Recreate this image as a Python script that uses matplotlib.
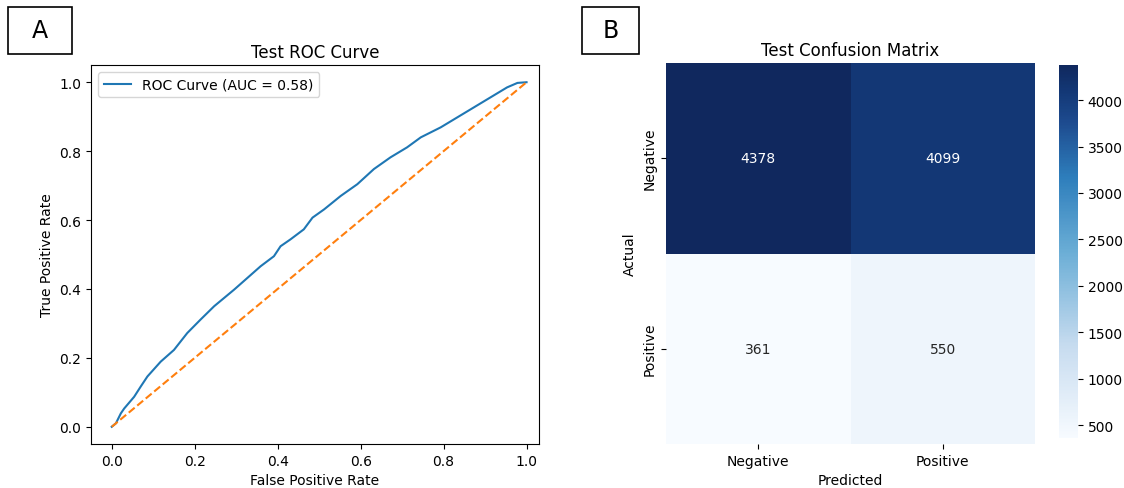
import matplotlib
matplotlib.use("Agg")
import matplotlib.pyplot as plt
from matplotlib.colors import LinearSegmentedColormap
from matplotlib.patches import Rectangle
import numpy as np
import seaborn as sns

W, H = 1124, 489

# ROC curve
fpr = [0.0, 0.01, 0.022, 0.03, 0.054, 0.07, 0.086, 0.118, 0.15, 0.182, 0.214,
       0.247, 0.295, 0.327, 0.359, 0.391, 0.407, 0.431, 0.463, 0.484, 0.512,
       0.552, 0.592, 0.632, 0.672, 0.712, 0.745, 0.793, 0.833, 0.873, 0.913,
       0.953, 0.978, 1.0]
tpr = [0.0, 0.01, 0.039, 0.053, 0.087, 0.117, 0.146, 0.189, 0.223, 0.272, 0.311,
       0.35, 0.398, 0.432, 0.466, 0.495, 0.524, 0.544, 0.573, 0.607, 0.631,
       0.67, 0.704, 0.748, 0.782, 0.811, 0.84, 0.869, 0.898, 0.927, 0.956,
       0.985, 0.998, 1.0]
auc = 0.58

class_labels = ["Negative", "Positive"]
cm = [[4378, 4099],
      [361, 550]]

# Blues as it looks in the screenshot (top end is more navy)
blues = plt.get_cmap("Blues")
cmap = LinearSegmentedColormap.from_list(
    "blues_shot",
    [(0.0, blues(0.0)), (0.25, blues(0.25)), (0.5, blues(0.5)), (0.7, blues(0.7)),
     (0.85, "#1d4a8e"), (0.93, "#133876"), (1.0, "#10285e")],
)


def px_axes(fig, left, top, right, bottom):
    return fig.add_axes([left / W, 1 - bottom / H, (right - left) / W, (bottom - top) / H])


def panel_label(fig, text, left, top, right, bottom):
    fig.add_artist(Rectangle((left / W, 1 - bottom / H), (right - left) / W,
                             (bottom - top) / H, transform=fig.transFigure,
                             fill=False, edgecolor="black", linewidth=1.2))
    fig.text((left + right) / 2 / W, 1 - (top + bottom) / 2 / H, text,
             ha="center", va="center", fontsize=17)


fig = plt.figure(figsize=(W / 100, H / 100), dpi=100)

# A: ROC
ax = px_axes(fig, 91, 66, 539, 445)
ax.plot(fpr, tpr, color="tab:blue", label="ROC Curve (AUC = {:.2f})".format(auc))
ax.plot([0, 1], [0, 1], color="tab:orange", linestyle="--")
ax.set_xlim(-0.05, 1.03)
ax.set_ylim(-0.05, 1.05)
ax.set_xticks(np.arange(0, 1.01, 0.2))
ax.set_yticks(np.arange(0, 1.01, 0.2))
ax.set_xlabel("False Positive Rate")
ax.set_ylabel("True Positive Rate")
ax.set_title("Test ROC Curve")
ax.legend(loc="upper left")

# B: confusion matrix
ax2 = px_axes(fig, 666, 64, 1035, 445)
cax = px_axes(fig, 1059, 66, 1078, 439)
sns.heatmap(np.array(cm), annot=True, fmt="d", cmap=cmap, ax=ax2, cbar_ax=cax,
            xticklabels=class_labels, yticklabels=class_labels)
ax2.set_xlabel("Predicted")
ax2.set_ylabel("Actual")
ax2.set_title("Test Confusion Matrix")

panel_label(fig, "A", 8, 8, 72, 55)
panel_label(fig, "B", 582, 8, 639, 55)

fig.savefig("out.png", dpi=100)
